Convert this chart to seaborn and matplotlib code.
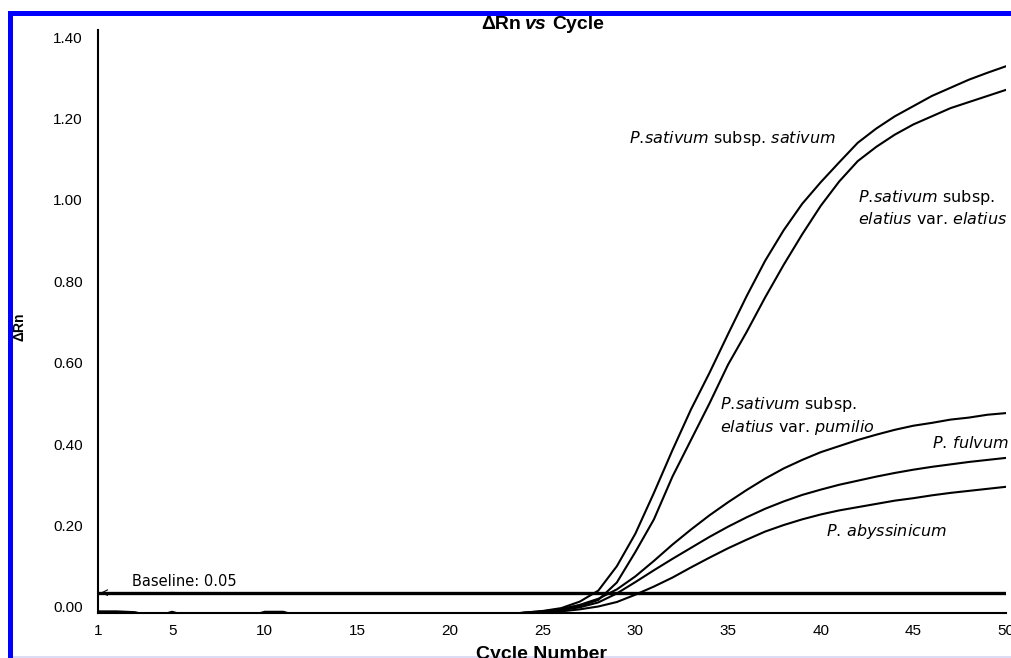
"""
Delta Rn vs cycle amplification curves
"""
import numpy as np
import pandas as pd
import matplotlib
matplotlib.use("Agg")
import matplotlib.pyplot as plt
import matplotlib.transforms as mtransforms
from matplotlib.patches import Rectangle
import seaborn as sns

# Data
cycles = list(range(1, 51))

sativum = [0.004, 0.004, 0.002, -0.010, 0.003, -0.010, -0.010, -0.010, -0.010, -0.010,
           -0.010, -0.010, -0.010, -0.010, -0.010, -0.010, -0.010, -0.010, -0.010, -0.010,
           -0.010, -0.008, -0.004, 0.001, 0.005, 0.012, 0.028, 0.055, 0.115, 0.195,
           0.295, 0.400, 0.500, 0.590, 0.685, 0.778, 0.865, 0.940, 1.005, 1.058,
           1.107, 1.155, 1.190, 1.220, 1.245, 1.270, 1.290, 1.310, 1.327, 1.343]

elatius = [-0.010, -0.010, -0.010, -0.010, -0.010, -0.010, -0.010, -0.010, -0.010, -0.010,
           -0.010, -0.010, -0.010, -0.010, -0.010, -0.010, -0.010, -0.010, -0.010, -0.010,
           -0.010, -0.008, -0.004, 0.000, 0.003, 0.008, 0.017, 0.032, 0.075, 0.150,
           0.230, 0.335, 0.425, 0.515, 0.610, 0.690, 0.775, 0.855, 0.930, 1.000,
           1.060, 1.110, 1.145, 1.175, 1.200, 1.220, 1.240, 1.255, 1.270, 1.285]

pumilio = [-0.010, -0.010, -0.010, -0.010, -0.010, -0.010, -0.010, -0.010, -0.010, 0.003,
           0.003, -0.010, -0.010, -0.010, -0.010, -0.010, -0.010, -0.010, -0.010, -0.010,
           -0.010, -0.008, -0.004, 0.001, 0.004, 0.010, 0.020, 0.035, 0.058, 0.090,
           0.128, 0.168, 0.205, 0.240, 0.272, 0.302, 0.330, 0.355, 0.376, 0.395,
           0.410, 0.425, 0.438, 0.450, 0.460, 0.467, 0.475, 0.480, 0.487, 0.491]

fulvum = [-0.010, -0.010, -0.010, -0.010, -0.010, -0.010, -0.010, -0.010, -0.010, -0.010,
          -0.010, -0.010, -0.010, -0.010, -0.010, -0.010, -0.010, -0.010, -0.010, -0.010,
          -0.010, -0.008, -0.004, 0.000, 0.003, 0.007, 0.014, 0.026, 0.048, 0.076,
          0.105, 0.133, 0.160, 0.187, 0.212, 0.235, 0.256, 0.274, 0.290, 0.303,
          0.315, 0.325, 0.335, 0.344, 0.352, 0.359, 0.365, 0.371, 0.376, 0.381]

abyssinicum = [-0.010, -0.010, -0.010, -0.010, -0.010, -0.010, -0.010, -0.010, -0.010, -0.010,
               -0.010, -0.010, -0.010, -0.010, -0.010, -0.010, -0.010, -0.010, -0.010, -0.010,
               -0.010, -0.008, -0.004, -0.001, 0.001, 0.004, 0.009, 0.016, 0.027, 0.045,
               0.065, 0.087, 0.112, 0.136, 0.159, 0.180, 0.200, 0.216, 0.230, 0.242,
               0.252, 0.260, 0.268, 0.276, 0.282, 0.289, 0.295, 0.300, 0.305, 0.310]

baseline = 0.05
x_ticks = [1, 5, 10, 15, 20, 25, 30, 35, 40, 45, 50]
y_ticks = [0.0, 0.2, 0.4, 0.6, 0.8, 1.0, 1.2, 1.4]

# Long-form table for seaborn
series = {"sativum": sativum, "elatius": elatius, "pumilio": pumilio,
          "fulvum": fulvum, "abyssinicum": abyssinicum}
df = pd.concat([pd.DataFrame({"cycle": cycles, "delta_rn": vals, "sample": name})
                for name, vals in series.items()], ignore_index=True)

# Style
sns.set_style("white")
plt.rcParams["font.family"] = ["Liberation Sans", "DejaVu Sans"]
plt.rcParams.update({"text.color": "black", "axes.labelcolor": "black",
                     "xtick.color": "black", "ytick.color": "black"})

W, H = 1012, 658
fig = plt.figure(figsize=(W / 100, H / 100), dpi=100)
ax = fig.add_axes([98 / W, (H - 613) / H, 908 / W, 583 / H])

sns.lineplot(data=df, x="cycle", y="delta_rn", hue="sample",
             palette=["black"] * 5, legend=False, linewidth=1.5, ax=ax)

# Baseline threshold
ax.axhline(baseline, color="black", lw=2.4, zorder=3)
ax.annotate("", xy=(1, baseline), xytext=(1.9, baseline),
            arrowprops=dict(arrowstyle="->", lw=0.8, color="black"))
ax.text(2.85, 0.066, "Baseline: 0.05", fontsize=10.5, family="DejaVu Sans",
        ha="left", va="baseline")

ax.set_xlim(1, 50)
ax.set_ylim(0, 1.432)
ax.set_xticks(x_ticks)
ax.set_yticks(y_ticks)
ax.set_yticklabels([f"{v:.2f}" for v in y_ticks])
ax.tick_params(axis="both", length=0, labelsize=11)
ax.tick_params(axis="y", pad=11)
ax.tick_params(axis="x", pad=8)
ax.set_xlabel("")
ax.set_ylabel("")
sns.despine(ax=ax)
for side in ["left", "bottom"]:
    ax.spines[side].set_linewidth(1.5)
    ax.spines[side].set_color("black")

shift = mtransforms.ScaledTranslation(0, 0.06, fig.dpi_scale_trans)
for lab in ax.get_yticklabels():
    lab.set_transform(lab.get_transform() + shift)

# Curve annotations (\! cancels mathtext's extra space after the period)
ann_kw = dict(fontsize=11.5, family="DejaVu Sans", ha="left", va="center", linespacing=1.3)
ax.text(29.66, 1.165, r"$\it{P.\!sativum}$ subsp. $\it{sativum}$", **ann_kw)
ax.text(42.0, 0.995, "$\\it{P.\\!sativum}$ subsp.\n$\\it{elatius}$ var. $\\it{elatius}$", **ann_kw)
ax.text(34.57, 0.484, "$\\it{P.\\!sativum}$ subsp.\n$\\it{elatius}$ var. $\\it{pumilio}$", **ann_kw)
ax.text(46.0, 0.418, r"$\it{P.\,fulvum}$", **ann_kw)
ax.text(40.3, 0.200, r"$\it{P.\,abyssinicum}$", **ann_kw)

# Title pieces (vs in italic)
ty = (H - 29) / H
fig.text(521 / W, ty, "\u0394Rn", fontsize=14, fontweight="bold", ha="right", va="baseline")
fig.text(536 / W, ty, "vs", fontsize=14, fontweight="bold", style="italic", ha="center", va="baseline")
fig.text(552 / W, ty, "Cycle", fontsize=14, fontweight="bold", ha="left", va="baseline")

# Axis titles
fig.text(541 / W, -1 / H, "Cycle Number", fontsize=14, fontweight="bold", ha="center", va="baseline")
fig.text(20 / W, (H - 327) / H, "\u0394Rn", fontsize=10, fontweight="bold",
         rotation=90, ha="center", va="center")

# Blue frame (left and top edges of the cropped screenshot)
fig.add_artist(Rectangle((8 / W, 0), 5 / W, (H - 11) / H, transform=fig.transFigure,
                         color="#0000ff", lw=0))
fig.add_artist(Rectangle((8 / W, (H - 16) / H), 1, 5 / H, transform=fig.transFigure,
                         color="#0000ff", lw=0))
fig.add_artist(Rectangle((13 / W, 0), 1, 2 / H, transform=fig.transFigure,
                         color="#dcdcf4", lw=0))

fig.savefig("out.png", dpi=100)
